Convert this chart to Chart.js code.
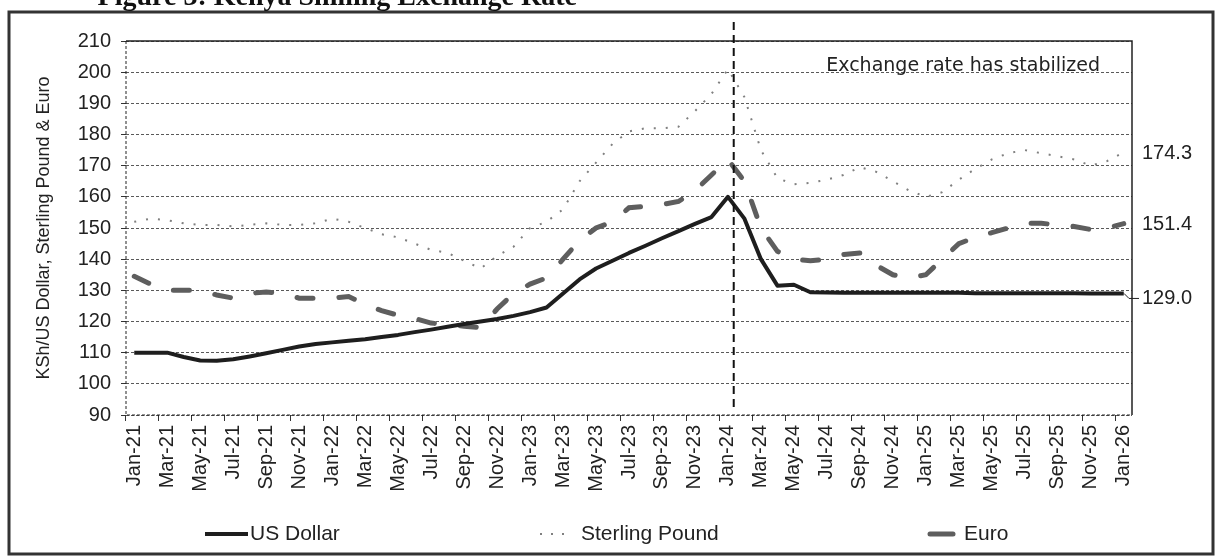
<!DOCTYPE html>
<html lang="en">
<head>
<meta charset="UTF-8">
<title>Kenya Shilling Exchange Rate</title>
<script src="https://cdn.jsdelivr.net/npm/chart.js"></script>
<style>
  html, body {
    margin: 0;
    padding: 0;
    background: #fff;
    overflow: hidden;
  }
  canvas {
    display: block;
  }
</style>
</head>
<body>
<canvas id="fxChart" width="1217" height="560"></canvas>
<script>
// monthly KSh rates, Jan-21 .. Jan-26
const months = [
  'Jan-21', 'Feb-21', 'Mar-21', 'Apr-21', 'May-21', 'Jun-21', 'Jul-21', 'Aug-21', 'Sep-21', 'Oct-21', 'Nov-21', 'Dec-21',
  'Jan-22', 'Feb-22', 'Mar-22', 'Apr-22', 'May-22', 'Jun-22', 'Jul-22', 'Aug-22', 'Sep-22', 'Oct-22', 'Nov-22', 'Dec-22',
  'Jan-23', 'Feb-23', 'Mar-23', 'Apr-23', 'May-23', 'Jun-23', 'Jul-23', 'Aug-23', 'Sep-23', 'Oct-23', 'Nov-23', 'Dec-23',
  'Jan-24', 'Feb-24', 'Mar-24', 'Apr-24', 'May-24', 'Jun-24', 'Jul-24', 'Aug-24', 'Sep-24', 'Oct-24', 'Nov-24', 'Dec-24',
  'Jan-25', 'Feb-25', 'Mar-25', 'Apr-25', 'May-25', 'Jun-25', 'Jul-25', 'Aug-25', 'Sep-25', 'Oct-25', 'Nov-25', 'Dec-25',
  'Jan-26'
];

const usDollar = [
  110, 110, 110, 108.6, 107.5, 107.4, 107.9, 108.8, 109.8, 110.9, 112, 112.8,
  113.3, 113.8, 114.3, 115, 115.7, 116.6, 117.4, 118.3, 119.2, 120, 120.8, 121.8,
  123, 124.5, 129, 133.5, 137, 139.5, 142, 144.3, 146.7, 149, 151.3, 153.5,
  160, 153, 140, 131.5, 131.8, 129.4, 129.3, 129.2, 129.2, 129.2, 129.2, 129.2,
  129.2, 129.2, 129.2, 129.1, 129.1, 129.1, 129.1, 129.1, 129.1, 129.1, 129, 129,
  129
];

const sterling = [
  152, 153, 152.5, 151.5, 151, 151, 150.5, 151, 151.5, 151, 151, 151.5,
  153, 152, 150, 148, 147, 145, 143, 142, 139.5, 137, 141, 144,
  150, 152, 156, 165, 171, 177, 181, 182, 182, 182.5, 187.5, 193,
  201, 192, 175, 166, 164, 164.5, 165.5, 167, 169.5, 168, 165, 162,
  160, 161.5, 165.5, 169, 172, 174, 175, 174, 173, 172, 170, 171.5,
  174.3
];

const euro = [
  134.5, 132, 130, 130, 130, 128.5, 127.5, 129, 129.5, 129, 127.5, 127.5,
  127.5, 128, 125.5, 123.5, 122, 121, 119.5, 119, 118.5, 118, 124, 129,
  132, 134, 140, 146, 150, 152, 156.5, 157, 157.5, 158.5, 162, 167,
  172, 165, 150, 142.5, 140, 139.5, 140, 141.5, 142, 138, 135, 134,
  135, 140, 145, 147, 148.5, 150, 151.5, 151.5, 151, 150.5, 149.5, 150,
  151.4
];

const endLabels = ['174.3', '151.4', '129.0'];
const markerMonth = 'Jan-24';
const noteText = 'Exchange rate has stabilized';
const figTitle = 'Figure 3: Kenya Shilling Exchange Rate';

const sans = '"Liberation Sans", Arial, sans-serif';

// extras the reference has: frame, box, marker line, note, end values, legend
const extras = {
  id: 'extras',
  afterDatasetsDraw(chart) {
    const {ctx, chartArea: a, scales: {x, y}} = chart;
    ctx.save();

    // plot box: dotted left/bottom, solid top/right
    ctx.strokeStyle = '#222';
    ctx.lineWidth = 1;
    ctx.setLineDash([3, 2]);
    ctx.beginPath();
    ctx.moveTo(a.left, a.top);
    ctx.lineTo(a.left, a.bottom);
    ctx.lineTo(a.right, a.bottom);
    ctx.stroke();
    ctx.setLineDash([]);
    ctx.lineWidth = 1.5;
    ctx.beginPath();
    ctx.moveTo(a.left, a.top);
    ctx.lineTo(a.right, a.top);
    ctx.lineTo(a.right, a.bottom);
    ctx.stroke();

    // vertical marker just after Jan-24
    const mx = x.getPixelForValue(months.indexOf(markerMonth) + 0.35);
    ctx.strokeStyle = '#111';
    ctx.lineWidth = 2;
    ctx.setLineDash([8, 5]);
    ctx.beginPath();
    ctx.moveTo(mx, a.top - 19);
    ctx.lineTo(mx, a.bottom - 6);
    ctx.stroke();
    ctx.setLineDash([]);

    // note
    ctx.fillStyle = '#222';
    ctx.font = '19px "DejaVu Sans", Verdana, sans-serif';
    ctx.textAlign = 'right';
    ctx.textBaseline = 'middle';
    ctx.fillText(noteText, a.right - 32, a.top + 25);

    // values at the line ends
    ctx.font = '20px ' + sans;
    ctx.textAlign = 'left';
    const ends = [sterling, euro, usDollar];
    ends.forEach((s, i) => {
      const py = y.getPixelForValue(s[s.length - 1]);
      ctx.fillText(endLabels[i], a.right + 10, py + (i === 2 ? 5 : 1));
    });
    ctx.lineWidth = 1;
    ctx.strokeStyle = '#222';
    const uy = y.getPixelForValue(usDollar[usDollar.length - 1]);
    ctx.beginPath();
    ctx.moveTo(a.right - 8, uy);
    ctx.lineTo(a.right - 3, uy + 5);
    ctx.lineTo(a.right + 7, uy + 5);
    ctx.stroke();

    // legend
    const ly = 534;
    ctx.font = '21px ' + sans;
    ctx.textBaseline = 'middle';
    const items = [
      {i: 0, x0: 205, x1: 248, tx: 250},
      {i: 1, x0: 540, x1: 570, tx: 581},
      {i: 2, x0: 930, x1: 953, tx: 964}
    ];
    items.forEach(it => {
      const ds = chart.data.datasets[it.i];
      ctx.strokeStyle = ds.borderColor;
      ctx.lineWidth = ds.borderWidth;
      ctx.lineCap = ds.borderCapStyle || 'butt';
      ctx.setLineDash(it.i === 1 ? [2, 9] : []);
      ctx.beginPath();
      ctx.moveTo(it.x0, ly);
      ctx.lineTo(it.x1, ly);
      ctx.stroke();
      ctx.setLineDash([]);
      ctx.lineCap = 'butt';
      ctx.fillStyle = '#222';
      ctx.fillText(ds.label, it.tx, ly);
    });

    // outer frame
    ctx.strokeStyle = '#333';
    ctx.lineWidth = 3;
    ctx.strokeRect(9, 12, 1204, 542);

    // title, mostly cut off at the top edge as in the scan
    ctx.fillStyle = '#111';
    ctx.font = 'bold 28px "Liberation Serif", "Times New Roman", serif';
    ctx.textAlign = 'right';
    ctx.textBaseline = 'alphabetic';
    ctx.fillText(figTitle, 577, 5);

    ctx.restore();
  }
};

new Chart(document.getElementById('fxChart'), {
  type: 'line',
  data: {
    labels: months,
    datasets: [
      {
        label: 'US Dollar',
        data: usDollar,
        borderColor: '#1e1e1e',
        borderWidth: 4,
        borderJoinStyle: 'round',
        pointRadius: 0,
        tension: 0
      },
      {
        label: 'Sterling Pound',
        data: sterling,
        borderColor: '#808080',
        borderWidth: 2,
        borderDash: [2, 10],
        pointRadius: 0,
        tension: 0
      },
      {
        label: 'Euro',
        data: euro,
        borderColor: '#5e5e5e',
        borderWidth: 5,
        borderDash: [16, 26],
        borderCapStyle: 'round',
        pointRadius: 0,
        tension: 0
      }
    ]
  },
  options: {
    responsive: false,
    animation: false,
    layout: {
      padding: {top: 41, right: 85, left: 0, bottom: 0}
    },
    plugins: {
      legend: {display: false},
      tooltip: {enabled: false}
    },
    scales: {
      x: {
        offset: true,
        grid: {
          offset: true,
          drawOnChartArea: false,
          drawTicks: true,
          tickLength: 6,
          color: ctx => (ctx.index % 2 === 0 ? '#333' : 'rgba(0,0,0,0)')
        },
        border: {display: false},
        ticks: {
          autoSkip: false,
          maxRotation: 90,
          minRotation: 90,
          padding: 4,
          color: '#222',
          font: {family: sans, size: 20},
          callback: (v, i) => (i % 2 === 0 ? months[i] : '')
        },
        afterFit: s => { s.height = 145; }
      },
      y: {
        min: 90,
        max: 210,
        grid: {
          color: 'rgba(0,0,0,0.65)',
          lineWidth: 1,
          tickLength: 5,
          tickColor: '#333'
        },
        border: {display: false, dash: [3, 2]},
        ticks: {
          stepSize: 10,
          padding: 10,
          color: '#222',
          font: {family: sans, size: 20}
        },
        title: {
          display: true,
          text: 'KSh/US Dollar, Sterling Pound & Euro',
          color: '#222',
          font: {family: sans, size: 18},
          padding: {top: 33, bottom: 0}
        },
        afterFit: s => { s.width = 126; }
      }
    }
  },
  plugins: [extras]
});
</script>
</body>
</html>
